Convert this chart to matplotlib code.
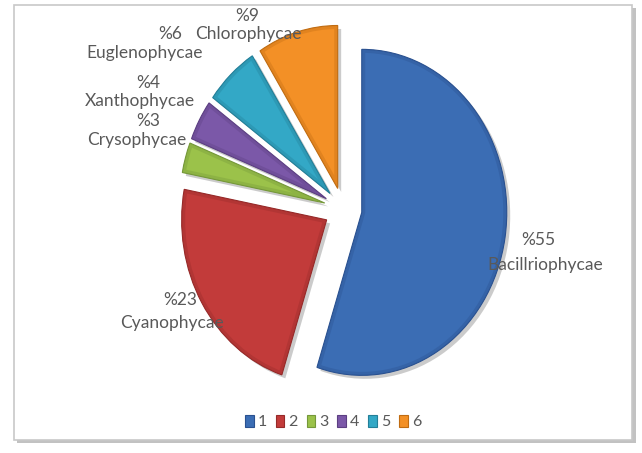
import matplotlib
matplotlib.use('Agg')
import matplotlib.pyplot as plt
from matplotlib.patches import Rectangle, Patch, Wedge
import matplotlib.patheffects as pe

categories = ['Bacillriophycae', 'Cyanophycae', 'Crysophycae', 'Xanthophycae', 'Euglenophycae', 'Chlorophycae']
values = [55, 23, 3, 4, 6, 9]
legend_labels = ['1', '2', '3', '4', '5', '6']

colors = ['#3b6db4', '#c23b3a', '#9bc24a', '#7b58a8', '#33a8c6', '#f39026']
edges = ['#2a5190', '#962a29', '#75983a', '#5c3f82', '#237f98', '#c06c12']

W, H = 642, 453
rx, ry = 145, 163
s = ry / rx  # vertical stretch of the pie (pixels per data unit in y)

fig = plt.figure(figsize=(W / 100, H / 100), dpi=100)
ax = fig.add_axes([0, 0, 1, 1])


def Y(py):
    return (H - py) / s


# frame with shadow
ax.add_patch(Rectangle((17, Y(443)), 619, 435 / s, facecolor='#9a9a9a', edgecolor='none', alpha=0.6, zorder=0))
ax.add_patch(Rectangle((14, Y(440)), 618, 435 / s, facecolor='white', edgecolor='#c8c8c8', linewidth=1.2, zorder=0.5))

wedges, _ = ax.pie(values, colors=colors, startangle=90, counterclock=False,
                   radius=rx, center=(343, Y(209)), explode=[19] * len(values))
for w, ec in zip(wedges, edges):
    w.set_edgecolor(ec)
    w.set_linewidth(0.8)
    w.set_zorder(2)
    w.set_path_effects([pe.SimplePatchShadow(offset=(2.5, -2.5), shadow_rgbFace='#555555', alpha=0.3), pe.Normal()])
    # soft inner bevel: darker rim clipped to the slice
    rim = Wedge(w.center, w.r, w.theta1, w.theta2, facecolor='none', edgecolor=ec,
                linewidth=5, alpha=0.35, zorder=3)
    ax.add_patch(rim)
    rim.set_clip_path(w)

txt = dict(fontsize=12.5, color='#595959', family=['Lato', 'DejaVu Sans'], ha='center', va='center', zorder=5)
pct_pos = [(538, 240), (180, 300), (148, 121), (148, 83), (170, 34), (247, 16)]
name_pos = [(545, 265), (172, 323), (137, 140), (140, 101), (145, 53), (248, 34)]
for v, name, pp, nps in zip(values, categories, pct_pos, name_pos):
    ax.text(pp[0], Y(pp[1]), f'%{v}', **txt)
    ax.text(nps[0], Y(nps[1]), name, **txt)

ax.set_xlim(0, W)
ax.set_ylim(0, H / s)
ax.set_aspect('auto')
ax.axis('off')

handles = [Patch(facecolor=c, edgecolor=e, linewidth=0.8) for c, e in zip(colors, edges)]
fig.legend(handles, legend_labels, ncol=6, loc='center', bbox_to_anchor=(333 / W, 1 - 422 / H),
           frameon=False, handlelength=0.55, handleheight=0.85, handletextpad=0.25, columnspacing=0.55,
           prop={'family': ['Lato', 'DejaVu Sans'], 'size': 11.5}, labelcolor='#595959')

fig.savefig('out.png', dpi=100)
